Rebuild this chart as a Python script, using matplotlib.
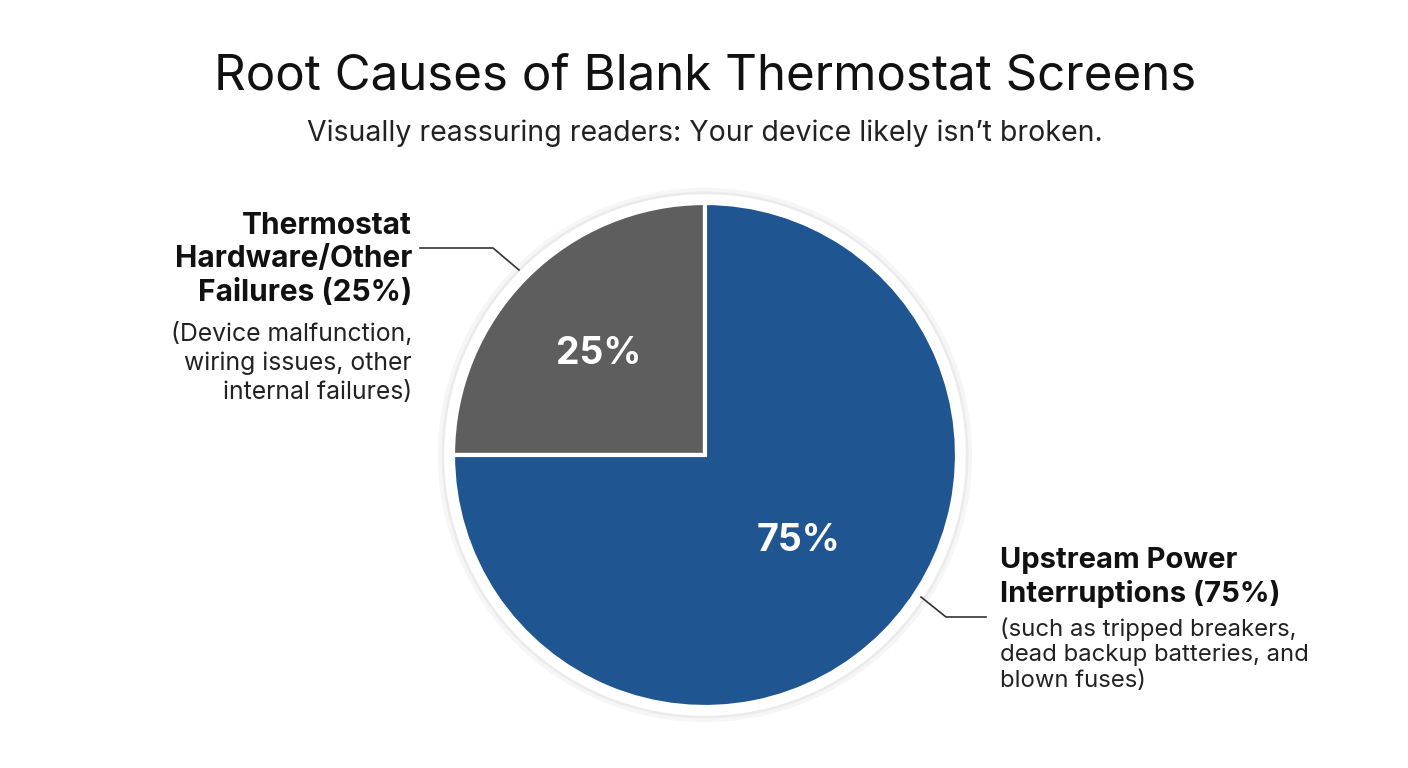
"""Pie chart: root causes of blank thermostat screens."""

import matplotlib
matplotlib.use("Agg")
import matplotlib.pyplot as plt
from matplotlib.patches import Circle

plt.rcParams["font.family"] = ["Inter", "DejaVu Sans"]

# data
categories = ["Thermostat Hardware/Other Failures", "Upstream Power Interruptions"]
shares = [25, 75]
slice_colors = ["#5e5e5e", "#1f5591"]
pct_labels = ["25%", "75%"]

left_head = ["Thermostat", "Hardware/Other", "Failures (25%)"]
left_body = ["(Device malfunction,", "wiring issues, other", "internal failures)"]
right_head = ["Upstream Power", "Interruptions (75%)"]
right_body = ["(such as tripped breakers,", "dead backup batteries, and", "blown fuses)"]

W, H = 1408, 768
fig = plt.figure(figsize=(W / 100, H / 100), dpi=100)
fig.patch.set_facecolor("white")

# pie axes placed by pixel centre / radius
cx, cy, R = 705, 455, 252
ax = fig.add_axes([(cx - R) / W, (H - cy - R) / H, 2 * R / W, 2 * R / H])

# soft outer ring
for r, c in [(1.06, "#f6f6f6"), (1.045, "#ebebeb"), (1.035, "white")]:
    ax.add_patch(Circle((0, 0), r, facecolor=c, edgecolor="none", zorder=0, clip_on=False))

wedges, _ = ax.pie(shares, colors=slice_colors, startangle=90, counterclock=True,
                   radius=1.0, wedgeprops=dict(edgecolor="white", linewidth=3))
for w in wedges:
    w.set_clip_on(False)
    w.set_zorder(2)
ax.set_xlim(-1, 1)
ax.set_ylim(-1, 1)
ax.set_aspect("equal")
ax.axis("off")

ax.text(-0.42, 0.40, pct_labels[0], color="white", fontsize=27, fontweight="bold",
        ha="center", va="center", zorder=3)
ax.text(0.37, -0.34, pct_labels[1], color="white", fontsize=27, fontweight="bold",
        ha="center", va="center", zorder=3)

# overlay in pixel coords for text and leaders
ov = fig.add_axes([0, 0, 1, 1], facecolor="none")
ov.set_xlim(0, W)
ov.set_ylim(H, 0)
ov.axis("off")

ov.text(705, 77, "Root Causes of Blank Thermostat Screens", fontsize=35.5,
        ha="center", va="center", color="#111111")
ov.text(705, 133, "Visually reassuring readers: Your device likely isn\u2019t broken.",
        fontsize=20.5, ha="center", va="center", color="#222222")

for i, s in enumerate(left_head):
    ov.text(412, 226 + i * 33.5, s, fontsize=21.5, fontweight="bold", ha="right",
            va="center", color="#111111")
for i, s in enumerate(left_body):
    ov.text(412, 334 + i * 29, s, fontsize=17.8, ha="right", va="center", color="#222222")

for i, s in enumerate(right_head):
    ov.text(1000, 561 + i * 33.5, s, fontsize=21, fontweight="bold", ha="left",
            va="center", color="#111111")
for i, s in enumerate(right_body):
    ov.text(1000, 629 + i * 26, s, fontsize=17.2, ha="left", va="center", color="#222222")

ov.plot([420, 493, 519], [248, 248, 270], color="#333333", lw=1.2)
ov.plot([921, 946, 986], [597, 617, 617], color="#333333", lw=1.2)

fig.savefig("out.png", dpi=100, facecolor="white")
